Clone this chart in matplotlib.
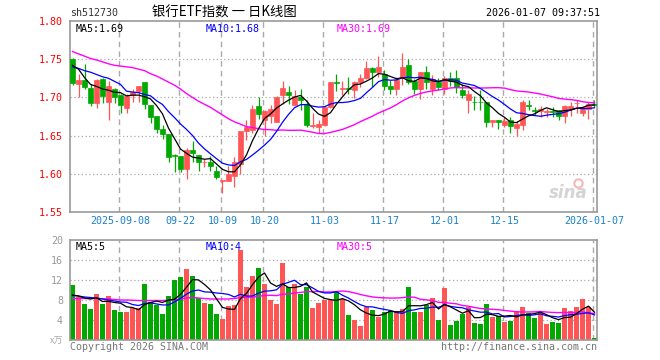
import numpy as np
import pandas as pd
import matplotlib
matplotlib.use("Agg")
import matplotlib.pyplot as plt

plt.rcParams['font.family'] = ['DejaVu Sans Mono', 'Noto Sans CJK SC']

# daily candles, 512730, 2025-08-27 .. 2026-01-07
opens = [1.750, 1.718, 1.723, 1.712, 1.693, 1.724, 1.694, 1.711, 1.703, 1.686,
         1.703, 1.708, 1.720, 1.690, 1.675, 1.659, 1.652, 1.624, 1.623, 1.606,
         1.631, 1.624, 1.615, 1.615, 1.604, 1.590, 1.590, 1.597, 1.613, 1.656,
         1.657, 1.689, 1.670, 1.676, 1.668, 1.703, 1.707, 1.690, 1.700, 1.691,
         1.662, 1.661, 1.664, 1.688, 1.720, 1.7115, 1.712, 1.710, 1.720, 1.725,
         1.738, 1.733, 1.731, 1.715, 1.711, 1.725, 1.742, 1.721, 1.711, 1.733,
         1.711, 1.720, 1.711, 1.726, 1.725, 1.710, 1.696, 1.6945, 1.6945, 1.694,
         1.668, 1.671, 1.664, 1.671, 1.660, 1.664, 1.6895, 1.684, 1.682, 1.6815,
         1.682, 1.684, 1.676, 1.685, 1.6925, 1.679, 1.685, 1.691]
highs = [1.751, 1.730, 1.744, 1.717, 1.724, 1.726, 1.721, 1.712, 1.705, 1.705,
         1.711, 1.715, 1.720, 1.690, 1.676, 1.664, 1.652, 1.626, 1.623, 1.634,
         1.643, 1.624, 1.619, 1.623, 1.610, 1.592, 1.610, 1.622, 1.656, 1.670,
         1.690, 1.700, 1.683, 1.690, 1.702, 1.721, 1.715, 1.710, 1.711, 1.696,
         1.680, 1.670, 1.688, 1.720, 1.731, 1.721, 1.727, 1.721, 1.731, 1.748,
         1.740, 1.754, 1.736, 1.723, 1.727, 1.758, 1.750, 1.724, 1.733, 1.741,
         1.729, 1.726, 1.728, 1.733, 1.736, 1.718, 1.710, 1.702, 1.710, 1.694,
         1.671, 1.671, 1.674, 1.675, 1.669, 1.697, 1.697, 1.688, 1.689, 1.685,
         1.688, 1.684, 1.690, 1.694, 1.697, 1.687, 1.694, 1.697]
lows = [1.716, 1.701, 1.711, 1.689, 1.686, 1.693, 1.670, 1.693, 1.680, 1.680,
        1.694, 1.694, 1.685, 1.667, 1.653, 1.646, 1.616, 1.602, 1.602, 1.593,
        1.616, 1.604, 1.609, 1.604, 1.593, 1.575, 1.590, 1.583, 1.600, 1.644,
        1.654, 1.672, 1.650, 1.667, 1.668, 1.692, 1.691, 1.689, 1.683, 1.661,
        1.660, 1.654, 1.663, 1.686, 1.709, 1.703, 1.705, 1.699, 1.714, 1.724,
        1.714, 1.727, 1.710, 1.704, 1.703, 1.716, 1.718, 1.705, 1.698, 1.711,
        1.703, 1.710, 1.705, 1.715, 1.706, 1.699, 1.680, 1.684, 1.683, 1.661,
        1.661, 1.659, 1.661, 1.654, 1.649, 1.657, 1.683, 1.677, 1.675, 1.675,
        1.675, 1.670, 1.667, 1.676, 1.679, 1.676, 1.672, 1.687]
closes = [1.719, 1.723, 1.714, 1.693, 1.723, 1.702, 1.715, 1.701, 1.690, 1.702,
          1.707, 1.715, 1.691, 1.675, 1.659, 1.652, 1.622, 1.623, 1.606, 1.631,
          1.627, 1.616, 1.6152, 1.610, 1.596, 1.592, 1.600, 1.615, 1.656, 1.661,
          1.685, 1.678, 1.682, 1.685, 1.700, 1.712, 1.703, 1.702, 1.696, 1.664,
          1.664, 1.665, 1.687, 1.720, 1.7195, 1.712, 1.7115, 1.720, 1.725, 1.738,
          1.733, 1.740, 1.715, 1.711, 1.723, 1.740, 1.720, 1.711, 1.733, 1.720,
          1.724, 1.714, 1.726, 1.722, 1.714, 1.703, 1.705, 1.694, 1.694, 1.668,
          1.671, 1.668, 1.669, 1.662, 1.665, 1.694, 1.689, 1.682, 1.685, 1.682,
          1.6815, 1.676, 1.689, 1.689, 1.693, 1.687, 1.691, 1.6905]
# volume, 万手
volumes = [11.0, 8.6, 7.2, 6.3, 9.2, 7.2, 8.8, 6.0, 5.6, 5.6,
           6.5, 6.5, 11.2, 7.7, 7.0, 5.2, 8.8, 12.0, 12.6, 14.2,
           12.8, 8.5, 7.4, 7.2, 5.3, 4.2, 6.9, 7.0, 18.0, 10.6,
           12.8, 14.4, 11.2, 8.0, 7.2, 15.4, 10.7, 11.2, 9.2, 10.6,
           6.4, 7.4, 8.0, 8.0, 9.8, 8.2, 5.1, 4.1, 2.9, 6.6,
           6.1, 4.7, 5.7, 5.8, 5.8, 6.3, 10.7, 5.7, 5.7, 7.0,
           8.5, 4.1, 10.5, 3.0, 3.9, 5.3, 6.6, 3.4, 3.3, 7.3,
           4.7, 4.9, 3.7, 3.9, 5.9, 6.7, 5.4, 4.5, 5.4, 3.3,
           3.7, 3.5, 6.5, 5.9, 6.7, 8.2, 6.6, 0.4]

# MA values before the window is full
ma5_head = [1.742, 1.737, 1.726, 1.717]
ma10_head = [1.740, 1.738, 1.735, 1.733, 1.730, 1.727, 1.725, 1.721, 1.717]
ma30_head = [1.760, 1.757, 1.754, 1.751, 1.749, 1.7465, 1.744, 1.742, 1.741, 1.740,
             1.739, 1.737, 1.735, 1.731, 1.728, 1.724, 1.720, 1.716, 1.711, 1.705,
             1.700, 1.695, 1.691, 1.687, 1.682, 1.677, 1.672, 1.668, 1.665]
vma5_head = [9.0, 8.8, 8.4, 8.2]
vma10_head = [8.9, 8.8, 8.6, 8.5, 8.4, 8.2, 8.0, 7.8, 7.6]
vma30_head = [8.3, 8.3, 8.3, 8.3, 8.3, 8.25, 8.2, 8.1, 8.0, 8.0,
              7.95, 7.9, 7.9, 7.9, 7.9, 7.9, 7.95, 8.0, 8.2, 8.4,
              8.5, 8.4, 8.3, 8.2, 8.2, 8.2, 8.2, 8.3, 8.5]

date_pos = [8, 18, 25, 32, 42, 52, 62, 72, 87]
date_labels = ['2025-09-08', '09-22', '10-09', '10-20', '11-03', '11-17',
               '12-01', '12-15', '2026-01-07']
price_ticks = [1.55, 1.60, 1.65, 1.70, 1.75, 1.80]
vol_ticks = [4, 8, 12, 16, 20]


def moving(values, n, head):
    s = pd.Series(values).rolling(n).mean().to_numpy()
    s[:len(head)] = head
    return s


RED = '#ff5555'
GREEN = '#00a800'
GRID = '#aaaaaa'
FRAME = '#999999'

x = np.arange(len(closes))
o = np.array(opens)
c = np.array(closes)
up = c >= o
colors = [RED if u else GREEN for u in up]

fig = plt.figure(figsize=(6.6, 3.6), dpi=100)
ax = fig.add_axes([70 / 660, 1 - 212 / 360, 527 / 660, 191 / 360])
axv = fig.add_axes([70 / 660, 1 - 340 / 360, 527 / 660, 100 / 360])

xlim = (-2.5 / 6, 87 + 2.5 / 6)

for a in (ax, axv):
    a.set_xlim(*xlim)
    for s in a.spines.values():
        s.set_color(FRAME)
        s.set_linewidth(1.2)
    for p in date_pos:
        a.axvline(p - 0.3, color=GRID, lw=1, ls=(0, (4, 3)), zorder=0)

# price panel
for p in price_ticks[1:-1]:
    ax.axhline(p, color=GRID, lw=0.9, ls=(0, (1, 2)), zorder=0)
ax.vlines(x, lows, highs, colors=colors, lw=0.9, zorder=2)
body = np.maximum(np.abs(c - o), 0.0004)
ax.bar(x, body, 0.75, bottom=np.minimum(o, c), color=colors,
       edgecolor=colors, linewidth=0.5, zorder=3)
ax.plot(x, moving(closes, 30, ma30_head), color='#ff00ff', lw=1, zorder=4)
ax.plot(x, moving(closes, 10, ma10_head), color='#0000ff', lw=0.9, zorder=4)
ax.plot(x, moving(closes, 5, ma5_head), color='black', lw=0.9, zorder=5)
ax.set_ylim(1.55, 1.80)
ax.set_yticks(price_ticks)
ax.set_yticklabels(['%.2f' % p for p in price_ticks])
ax.set_xticks(date_pos)
ax.set_xticklabels(date_labels)
ax.tick_params(axis='y', length=0, pad=5, labelcolor='red', labelsize=7.2)
ax.tick_params(axis='x', length=0, pad=3, labelcolor='#1a80c8', labelsize=7.2)

ax.text(0.01, 0.985, 'MA5:1.69', transform=ax.transAxes, ha='left', va='top',
        fontsize=7.2, color='black')
ax.text(0.258, 0.985, 'MA10:1.68', transform=ax.transAxes, ha='left', va='top',
        fontsize=7.2, color='#0000ff')
ax.text(0.506, 0.985, 'MA30:1.69', transform=ax.transAxes, ha='left', va='top',
        fontsize=7.2, color='#ff00ff')
ax.text(85.8, 1.563, 'sina', ha='right', va='bottom', fontsize=12,
        fontstyle='italic', fontweight='bold', color='#d4d4d4', zorder=1,
        family=['DejaVu Sans'])
ax.plot([84.2], [1.588], 'o', ms=6, mfc='none', mec='#f5b8b8', mew=1.5, zorder=1)

# volume panel
for v in vol_ticks[:-1]:
    axv.axhline(v, color=GRID, lw=0.9, ls=(0, (1, 2)), zorder=0)
axv.bar(x, volumes, 0.8, color=colors, zorder=2)
axv.plot(x, moving(volumes, 30, vma30_head), color='#ff00ff', lw=1, zorder=3)
axv.plot(x, moving(volumes, 10, vma10_head), color='#0000ff', lw=0.9, zorder=3)
axv.plot(x, moving(volumes, 5, vma5_head), color='black', lw=0.9, zorder=4)
axv.set_ylim(0, 20)
axv.set_yticks(vol_ticks)
axv.set_yticklabels([str(v) for v in vol_ticks])
axv.set_xticks([])
axv.tick_params(axis='y', length=0, pad=5, labelcolor='#999999', labelsize=7.2)
axv.text(0.01, 0.975, 'MA5:5', transform=axv.transAxes, ha='left', va='top',
         fontsize=7.2, color='black')
axv.text(0.258, 0.975, 'MA10:4', transform=axv.transAxes, ha='left', va='top',
         fontsize=7.2, color='#0000ff')
axv.text(0.506, 0.975, 'MA30:5', transform=axv.transAxes, ha='left', va='top',
         fontsize=7.2, color='#ff00ff')

# header / footer
fig.text(70 / 660, 1 - 13 / 360, 'sh512730', ha='left', va='center',
         fontsize=7.2, color='#333333')
fig.text(224 / 660, 1 - 13 / 360, '银行ETF指数 一 日K线图', ha='center',
         va='center', fontsize=9.6, color='black',
         family=['Noto Sans CJK SC', 'DejaVu Sans'])
fig.text(600 / 660, 1 - 13 / 360, '2026-01-07 09:37:51', ha='right',
         va='center', fontsize=7.2, color='black')
fig.text(63 / 660, 1 - 341 / 360, 'x万', ha='right', va='center',
         fontsize=6.5, color='#aaaaaa',
         family=['Noto Sans CJK SC', 'DejaVu Sans'])
fig.text(70 / 660, 1 - 347 / 360, 'Copyright 2026 SINA.COM', ha='left',
         va='center', fontsize=7.2, color='#777777')
fig.text(597 / 660, 1 - 347 / 360, 'http://finance.sina.com.cn', ha='right',
         va='center', fontsize=7.2, color='#777777')

fig.savefig('out.png', dpi=100, facecolor='white')
